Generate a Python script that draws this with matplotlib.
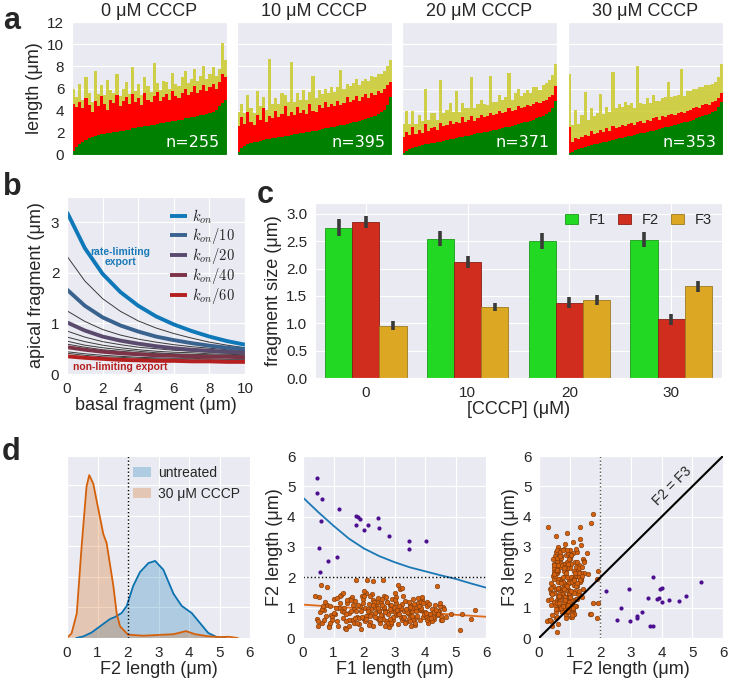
import matplotlib
matplotlib.use('Agg')
import matplotlib.pyplot as plt
import numpy as np
import seaborn as sns

sns.set_style('darkgrid')
plt.rcParams['font.family'] = ['Liberation Sans', 'DejaVu Sans']
plt.rcParams['mathtext.fontset'] = 'cm'

# ---- panel a: stacked fragment lengths per cell (tops of F1, F1+F2, F1+F2+F3), sorted by F1
conc_titles = ['0 \u03bcM CCCP', '10 \u03bcM CCCP', '20 \u03bcM CCCP', '30 \u03bcM CCCP']
cell_counts = ['n=255', 'n=395', 'n=371', 'n=353']

green_0 = [0.35, 0.7, 1.0, 1.2, 1.35, 1.5, 1.6, 1.7, 1.8, 1.85,
           1.9, 1.95, 2.0, 2.05, 2.1, 2.15, 2.2, 2.25, 2.3, 2.4,
           2.45, 2.5, 2.55, 2.6, 2.65, 2.7, 2.75, 2.8, 2.85, 2.9,
           2.95, 3.0, 3.05, 3.1, 3.15, 3.2, 3.3, 3.35, 3.4, 3.45,
           3.5, 3.6, 3.65, 3.7, 3.8, 3.9, 4.1, 4.4, 4.7, 5.0]
red_0 = [4.6, 4.3, 4.8, 4.2, 5.1, 4.5, 3.9, 4.9, 4.4, 5.3,
         4.6, 4.1, 5.0, 4.7, 5.4, 4.4, 4.9, 5.2, 4.6, 5.5,
         4.8, 5.1, 4.5, 5.6, 5.0, 4.8, 5.3, 5.7, 4.9, 5.2,
         5.5, 5.0, 5.8, 5.3, 5.1, 5.6, 6.0, 5.4, 5.7, 6.2,
         5.6, 5.9, 6.3, 5.8, 6.1, 6.4, 6.0, 6.6, 7.3, 7.0]
yellow_0 = [6.0, 5.2, 6.4, 5.0, 7.0, 5.6, 4.8, 7.6, 5.5, 6.3,
            5.4, 6.8, 5.9, 5.6, 7.3, 5.3, 6.0, 6.6, 5.5, 7.9,
            5.8, 6.4, 5.4, 7.0, 6.2, 5.7, 8.3, 6.5, 5.9, 6.7,
            6.6, 6.0, 7.4, 6.4, 6.2, 7.0, 7.6, 6.5, 6.9, 7.8,
            6.7, 7.1, 8.0, 6.9, 7.3, 7.9, 7.1, 7.8, 10.1, 8.6]

green_10 = [0.3, 0.6, 0.8, 0.95, 1.05, 1.15, 1.2, 1.3, 1.35, 1.4,
            1.45, 1.5, 1.55, 1.6, 1.65, 1.7, 1.75, 1.8, 1.85, 1.9,
            1.95, 2.0, 2.05, 2.1, 2.15, 2.2, 2.25, 2.35, 2.4, 2.45,
            2.5, 2.55, 2.6, 2.7, 2.75, 2.8, 2.85, 2.95, 3.0, 3.1,
            3.15, 3.25, 3.35, 3.45, 3.55, 3.7, 3.85, 4.1, 4.5, 5.2]
red_10 = [2.6, 3.4, 2.8, 3.9, 3.0, 2.7, 3.6, 3.2, 4.2, 3.0,
          3.5, 3.3, 4.0, 3.4, 3.7, 4.4, 3.5, 3.9, 3.6, 4.3,
          3.8, 4.1, 3.7, 4.6, 4.0, 3.9, 4.5, 4.2, 4.8, 4.3,
          4.6, 4.4, 4.9, 4.5, 4.7, 5.2, 4.8, 5.0, 5.3, 4.9,
          5.2, 5.5, 5.1, 5.6, 5.4, 5.8, 5.6, 6.0, 6.3, 6.6]
yellow_10 = [3.9, 4.6, 3.8, 5.4, 4.2, 3.8, 5.8, 4.4, 5.2, 4.1,
             8.7, 4.6, 5.1, 4.6, 5.6, 5.4, 4.8, 8.4, 4.8, 5.6,
             5.0, 5.9, 5.0, 5.7, 7.1, 5.1, 5.9, 5.5, 6.0, 5.6,
             6.1, 5.7, 6.1, 7.7, 6.0, 6.4, 6.2, 6.5, 6.9, 6.3,
             6.7, 6.9, 6.7, 7.1, 7.0, 7.3, 7.3, 7.6, 8.0, 8.6]

green_20 = [0.2, 0.4, 0.55, 0.65, 0.75, 0.85, 0.9, 0.95, 1.0, 1.05,
            1.1, 1.15, 1.2, 1.3, 1.35, 1.4, 1.45, 1.5, 1.6, 1.65,
            1.7, 1.75, 1.8, 1.9, 1.95, 2.0, 2.05, 2.1, 2.2, 2.25,
            2.3, 2.35, 2.45, 2.5, 2.55, 2.65, 2.7, 2.8, 2.85, 2.95,
            3.0, 3.1, 3.2, 3.3, 3.4, 3.55, 3.7, 3.9, 4.2, 4.9]
red_20 = [1.6, 2.1, 1.8, 2.5, 1.9, 2.3, 2.0, 2.8, 2.2, 2.4,
          2.5, 2.3, 2.9, 2.6, 2.7, 3.1, 2.8, 3.0, 2.9, 3.4,
          3.0, 3.2, 3.5, 3.1, 3.3, 3.6, 3.4, 3.5, 3.8, 3.6,
          3.7, 4.0, 3.8, 3.9, 4.2, 4.0, 4.1, 4.4, 4.2, 4.3,
          4.5, 4.4, 4.6, 4.8, 4.7, 4.9, 5.0, 5.2, 5.4, 6.2]
yellow_20 = [2.8, 4.0, 2.8, 4.0, 2.8, 3.6, 3.1, 6.0, 3.2, 3.8,
             3.8, 3.2, 6.8, 3.8, 4.1, 4.7, 3.9, 5.8, 3.9, 4.7,
             4.2, 4.2, 7.0, 4.2, 4.6, 5.0, 4.6, 4.5, 7.1, 4.8,
             4.8, 5.4, 5.0, 5.2, 7.4, 5.0, 5.6, 6.0, 5.3, 5.6,
             5.9, 5.6, 6.1, 6.1, 5.9, 6.3, 6.5, 6.8, 7.2, 8.2]

green_30 = [0.15, 0.3, 0.45, 0.55, 0.65, 0.75, 0.8, 0.9, 0.95, 1.0,
            1.1, 1.15, 1.2, 1.3, 1.35, 1.4, 1.5, 1.55, 1.6, 1.7,
            1.75, 1.8, 1.9, 1.95, 2.0, 2.1, 2.15, 2.2, 2.3, 2.35,
            2.4, 2.5, 2.55, 2.65, 2.7, 2.8, 2.85, 2.95, 3.0, 3.1,
            3.2, 3.3, 3.4, 3.5, 3.6, 3.7, 3.85, 4.0, 4.3, 4.8]
red_30 = [2.5, 1.2, 1.5, 1.4, 1.6, 1.8, 1.7, 2.2, 1.9, 2.0,
          2.3, 2.1, 2.4, 2.2, 2.6, 2.4, 2.5, 2.7, 2.6, 2.8,
          2.9, 2.7, 3.0, 3.1, 2.9, 3.2, 3.1, 3.3, 3.4, 3.2,
          3.5, 3.4, 3.6, 3.7, 3.6, 3.8, 3.9, 3.8, 4.0, 4.1,
          4.2, 4.3, 4.2, 4.5, 4.6, 4.5, 4.8, 4.9, 5.1, 5.6]
yellow_30 = [7.3, 2.7, 4.1, 2.8, 3.6, 5.7, 3.2, 4.2, 3.5, 3.8,
             5.5, 3.7, 4.3, 3.9, 7.5, 4.2, 4.6, 4.3, 4.8, 4.5,
             4.7, 4.2, 8.0, 4.7, 4.6, 5.1, 4.7, 5.4, 4.9, 4.9,
             5.1, 5.2, 6.6, 5.2, 5.3, 5.4, 7.8, 5.3, 5.8, 5.8,
             6.0, 6.0, 6.1, 6.1, 6.3, 6.3, 6.4, 6.6, 7.0, 8.2]

# ---- panel b: model curves (apical vs basal fragment)
basal = [0, 1, 2, 3, 4, 5, 6, 7, 8, 9, 10]
kon_1 = [3.20, 2.49, 1.98, 1.62, 1.35, 1.14, 0.98, 0.85, 0.74, 0.65, 0.58]
kon_10 = [1.67, 1.35, 1.12, 0.96, 0.84, 0.74, 0.67, 0.61, 0.56, 0.52, 0.49]
kon_20 = [1.02, 0.86, 0.74, 0.66, 0.60, 0.55, 0.51, 0.48, 0.46, 0.44, 0.42]
kon_40 = [0.53, 0.48, 0.44, 0.41, 0.39, 0.37, 0.36, 0.35, 0.34, 0.34, 0.33]
kon_60 = [0.35, 0.32, 0.30, 0.28, 0.27, 0.26, 0.26, 0.25, 0.25, 0.24, 0.24]
thin_curves = [
    [2.33, 1.84, 1.49, 1.24, 1.05, 0.91, 0.80, 0.71, 0.63, 0.57, 0.52],
    [1.25, 1.04, 0.88, 0.77, 0.69, 0.63, 0.58, 0.54, 0.51, 0.48, 0.46],
    [0.85, 0.73, 0.64, 0.58, 0.53, 0.50, 0.47, 0.45, 0.43, 0.41, 0.40],
    [0.73, 0.64, 0.57, 0.52, 0.48, 0.45, 0.43, 0.42, 0.40, 0.39, 0.38],
    [0.65, 0.57, 0.52, 0.48, 0.45, 0.42, 0.40, 0.39, 0.38, 0.37, 0.36],
    [0.59, 0.53, 0.48, 0.45, 0.42, 0.40, 0.39, 0.37, 0.36, 0.36, 0.35],
    [0.44, 0.40, 0.37, 0.35, 0.33, 0.32, 0.31, 0.31, 0.30, 0.29, 0.29],
    [0.41, 0.37, 0.34, 0.33, 0.31, 0.30, 0.29, 0.28, 0.28, 0.27, 0.27],
]
kon_labels = ['$k_{on}$', '$k_{on}/10$', '$k_{on}/20$', '$k_{on}/40$', '$k_{on}/60$']
kon_colors = ['#0f78b8', '#3a628f', '#5a4b6e', '#7d3347', '#b41f1f']

# ---- panel c: mean fragment sizes
cccp = ['0', '10', '20', '30']
f1_mean = [2.75, 2.55, 2.50, 2.53]
f2_mean = [2.85, 2.13, 1.38, 1.07]
f3_mean = [0.96, 1.30, 1.43, 1.68]
f1_err = [0.15, 0.13, 0.15, 0.14]
f2_err = [0.11, 0.11, 0.10, 0.10]
f3_err = [0.075, 0.07, 0.09, 0.10]

# ---- panel d left: F2 length densities
kde_x_untreated = [0.3, 0.53, 0.8, 1.08, 1.41, 1.57, 1.79, 1.96, 2.17, 2.39,
                   2.67, 2.89, 3.16, 3.49, 3.76, 4.09, 4.36, 4.63, 4.9, 5.2]
kde_y_untreated = [0, 0.01, 0.035, 0.076, 0.124, 0.137, 0.163, 0.21, 0.34, 0.43,
                   0.49, 0.504, 0.446, 0.29, 0.21, 0.163, 0.098, 0.033, 0.007, 0]
kde_x_cccp = [0, 0.15, 0.32, 0.48, 0.64, 0.73, 0.86, 1.08, 1.19, 1.30, 1.52,
              1.63, 1.74, 2.0, 2.5, 3.0, 3.5, 3.9, 4.2, 4.6, 5.0, 5.3, 5.6]
kde_y_cccp = [0, 0.03, 0.16, 0.60, 0.99, 1.065, 1.01, 0.79, 0.68, 0.62, 0.34,
              0.16, 0.076, 0.022, 0.015, 0.02, 0.025, 0.045, 0.025, 0.012, 0.006, 0.008, 0]

# ---- panel d scatter: cells with long F2 (purple) and the rest (orange), 30 uM CCCP
long_f1 = [0.55, 0.82, 1.11, 3.49, 0.51, 3.49, 4.03, 2.82, 2.01, 2.49, 1.73,
           2.14, 0.59, 1.88, 2.47, 1.79, 1.73, 1.18, 0.63, 0.46, 0.46]
long_f2 = [2.17, 2.55, 2.66, 2.95, 2.98, 3.21, 3.21, 3.37, 3.56, 3.61, 3.71,
           3.73, 3.85, 3.91, 3.95, 4.00, 4.02, 4.25, 4.58, 4.78, 5.27]
long_f3 = [1.56, 0.58, 0.98, 1.63, 0.55, 0.72, 0.66, 0.87, 1.33, 0.38, 0.38,
           2.00, 1.29, 1.33, 1.61, 1.20, 1.66, 1.24, 1.21, 1.38, 1.85]

short_f1 = [0.45, 0.52, 0.61, 0.70, 0.78, 0.85, 0.93, 1.02, 1.10, 1.18,
            1.25, 1.31, 1.38, 1.44, 1.50, 1.55, 1.60, 1.66, 1.71, 1.77,
            1.82, 1.86, 1.91, 1.95, 2.00, 2.04, 2.08, 2.12, 2.16, 2.20,
            2.24, 2.28, 2.31, 2.35, 2.39, 2.42, 2.46, 2.50, 2.53, 2.57,
            2.60, 2.64, 2.67, 2.71, 2.74, 2.78, 2.81, 2.85, 2.88, 2.92,
            2.95, 2.99, 3.02, 3.06, 3.10, 3.14, 3.18, 3.22, 3.26, 3.30,
            3.34, 3.38, 3.42, 3.46, 3.50, 3.54, 3.58, 3.62, 3.66, 3.70,
            3.74, 3.78, 3.82, 3.86, 3.90, 3.95, 4.00, 4.05, 4.10, 4.16,
            4.22, 4.28, 4.34, 4.40, 4.46, 4.52, 4.58, 4.70, 4.85, 5.15,
            0.55, 0.68, 0.95, 1.15, 1.35, 1.58, 1.80, 2.02, 2.22, 2.44,
            2.62, 2.84, 3.04, 3.24, 3.44, 3.64, 3.84, 4.04, 4.24, 4.44,
            0.48, 0.88, 1.28, 1.68, 2.08, 2.48, 2.88, 3.28, 3.68, 4.08,
            1.05, 1.45, 1.85, 2.26, 2.66, 3.06, 3.46, 3.86, 4.26, 4.50,
            1.62, 1.90, 2.14, 2.36, 2.58, 2.80, 3.00, 3.20, 3.40, 3.60,
            0.40, 0.58, 0.80, 1.75, 2.10, 2.62, 3.25, 5.50, 5.65, 5.20,
            1.40, 2.70, 3.90, 1.20, 2.30, 0.95, 3.50, 2.00, 4.40, 3.10,
            0.62, 0.90, 1.22, 1.52, 1.74, 1.98, 2.18, 2.40, 2.56, 2.76,
            2.96, 3.16, 3.36, 3.56, 3.76, 3.96, 4.14, 4.32, 4.54, 4.62,
            0.72, 1.00, 1.40, 1.64, 1.92, 2.14, 2.34, 2.54, 2.72, 2.90,
            3.08, 3.28, 3.48, 3.68, 3.88, 4.06, 4.30, 4.48, 1.50, 2.20,
            0.50, 0.75, 1.08, 1.33, 1.56, 1.78, 2.06, 2.30, 2.50, 2.70,
            2.90, 3.12, 3.32, 3.52, 3.72, 3.92, 4.12, 4.36, 4.56, 3.00,
            0.85, 1.12, 1.42, 1.70, 1.96, 2.20, 2.46, 2.68, 2.86, 3.14,
            3.38, 3.58, 3.80, 4.02, 4.20, 4.42, 0.65, 1.30, 2.00, 2.60]
short_f2 = [0.62, 1.35, 0.48, 0.92, 1.10, 0.41, 0.75, 1.28, 0.55, 0.98,
            1.42, 0.65, 0.33, 1.15, 0.82, 1.30, 0.58, 0.95, 1.22, 0.70,
            0.45, 1.05, 0.88, 1.38, 0.62, 0.99, 1.48, 0.77, 1.12, 0.52,
            0.95, 1.25, 0.38, 0.84, 1.05, 0.66, 1.32, 0.90, 0.48, 1.15,
            0.72, 1.40, 0.98, 0.55, 1.18, 0.80, 0.35, 1.08, 0.88, 1.28,
            0.60, 1.02, 0.85, 1.35, 0.45, 0.95, 1.60, 0.70, 1.12, 0.90,
            1.22, 0.52, 0.95, 0.78, 1.08, 0.40, 0.88, 1.30, 0.65, 1.00,
            0.72, 1.15, 0.58, 0.92, 1.25, 0.68, 0.85, 1.05, 0.50, 0.80,
            0.95, 0.62, 1.10, 0.75, 0.88, 0.60, 1.02, 0.68, 0.80, 0.25,
            0.85, 0.58, 0.68, 0.40, 1.00, 0.90, 1.10, 0.55, 0.80, 1.20,
            0.62, 0.95, 1.15, 0.58, 0.82, 1.12, 0.95, 0.72, 0.55, 0.90,
            0.40, 1.05, 0.88, 0.48, 0.72, 0.60, 0.45, 1.38, 0.42, 1.18,
            0.78, 1.25, 0.65, 1.45, 1.02, 0.75, 0.62, 1.20, 0.70, 1.05,
            1.35, 0.30, 0.95, 0.68, 1.30, 0.50, 1.25, 1.00, 0.85, 0.58,
            1.38, 1.75, 1.68, 1.92, 1.90, 1.92, 1.65, 0.62, 0.92, 0.78,
            0.30, 0.90, 1.35, 1.38, 1.88, 0.60, 0.55, 1.55, 1.70, 1.75,
            0.95, 0.50, 1.15, 0.60, 0.90, 1.30, 0.42, 1.00, 0.75, 1.18,
            0.68, 1.05, 0.50, 0.98, 1.32, 0.78, 1.12, 0.85, 0.72, 0.95,
            1.20, 0.82, 0.55, 1.08, 0.70, 0.88, 1.18, 0.62, 1.35, 0.52,
            0.92, 0.65, 1.20, 0.48, 1.00, 0.58, 0.85, 1.15, 0.38, 1.40,
            0.55, 0.72, 0.98, 0.85, 1.25, 0.48, 0.62, 1.08, 0.92, 0.40,
            1.10, 0.80, 0.68, 1.02, 0.88, 1.15, 0.65, 0.92, 0.58, 1.48,
            0.35, 1.32, 0.78, 0.65, 1.15, 0.72, 0.98, 0.85, 0.62, 0.78,
            0.95, 0.72, 1.05, 0.82, 0.65, 0.78, 1.05, 1.48, 1.40, 1.10]
short_f3 = [0.45, 3.65, 2.10, 1.20, 2.80, 0.40, 1.55, 2.25, 0.85, 1.90,
            2.60, 1.05, 0.60, 1.75, 2.95, 1.45, 2.30, 1.10, 2.05, 0.95,
            1.70, 2.45, 0.75, 1.95, 3.00, 1.30, 2.15, 1.85, 0.95, 2.70,
            1.15, 2.85, 1.50, 2.05, 0.70, 1.65, 2.40, 1.00, 2.20, 1.75,
            2.90, 1.35, 1.80, 0.65, 2.50, 1.20, 1.60, 2.00, 2.75, 1.45,
            1.25, 2.30, 0.90, 1.85, 2.60, 1.40, 2.10, 1.95, 1.05, 1.70,
            2.35, 1.10, 2.80, 1.50, 0.95, 1.80, 2.25, 1.55, 1.30, 2.65,
            1.90, 0.80, 2.15, 1.35, 2.50, 1.05, 1.75, 2.00, 1.20, 2.40,
            1.60, 2.20, 0.90, 1.45, 2.05, 1.15, 1.85, 1.30, 1.00, 0.55,
            1.35, 0.70, 2.50, 1.65, 1.40, 2.00, 1.25, 2.85, 2.45, 1.30,
            1.95, 0.85, 2.20, 2.55, 1.75, 1.90, 0.90, 2.70, 1.60, 2.30,
            1.10, 1.85, 0.65, 1.50, 2.35, 2.90, 2.05, 2.15, 0.75, 1.55,
            2.00, 1.30, 2.70, 1.60, 1.20, 2.40, 1.85, 1.05, 2.60, 1.25,
            1.95, 1.25, 1.55, 0.95, 2.10, 2.45, 1.70, 2.90, 1.35, 2.20,
            3.05, 4.10, 3.80, 2.20, 1.95, 1.15, 0.80, 1.40, 1.75, 1.05,
            3.65, 3.45, 3.25, 1.90, 0.65, 0.20, 3.35, 2.80, 0.80, 1.15,
            1.80, 2.30, 0.80, 2.55, 1.05, 2.00, 1.45, 2.60, 0.85, 2.15,
            1.40, 2.75, 1.95, 1.20, 2.30, 1.65, 0.95, 2.45, 1.85, 1.10,
            2.95, 1.60, 2.20, 0.70, 2.85, 1.75, 1.05, 2.40, 1.90, 2.05,
            2.50, 1.15, 1.70, 2.10, 1.35, 2.65, 1.25, 1.95, 0.55, 2.35,
            0.95, 2.65, 1.50, 3.10, 1.80, 2.40, 1.60, 0.75, 2.90, 1.30,
            1.00, 2.20, 2.70, 1.55, 2.15, 1.90, 1.45, 1.70, 2.25, 2.55,
            0.60, 2.15, 2.90, 1.35, 1.50, 1.00, 2.60, 2.35, 1.65, 1.85,
            2.45, 1.80, 1.55, 2.30, 1.40, 1.05, 2.75, 2.50, 2.05, 3.15]

# fitted trend lines in the F1/F2 plot
trend_x = [0, 6]
trend_y = [1.1, 0.7]
bound_x = [0, 0.5, 1, 1.5, 2, 2.5, 3, 3.5, 4, 4.5, 5, 5.5, 6]
bound_y = [4.63, 4.15, 3.70, 3.28, 2.95, 2.70, 2.50, 2.33, 2.20, 2.07, 1.95, 1.80, 1.66]

W, H = 729, 684
fig = plt.figure(figsize=(W / 100, H / 100), dpi=100)


def box(x0, y0, x1, y1):
    return [x0 / W, 1 - y1 / H, (x1 - x0) / W, (y1 - y0) / H]


# ---------------- a
a_sets = [(green_0, red_0, yellow_0), (green_10, red_10, yellow_10),
          (green_20, red_20, yellow_20), (green_30, red_30, yellow_30)]
a_lefts = [72, 237, 402, 568]
for i, (g, r, yl) in enumerate(a_sets):
    ax = fig.add_axes(box(a_lefts[i], 22, a_lefts[i] + 155, 155))
    edges = np.arange(len(g) + 1)
    ax.stairs(g, edges, baseline=0, fill=True, color='#008000', lw=0)
    ax.stairs(r, edges, baseline=g, fill=True, color='#ff0000', lw=0)
    ax.stairs(yl, edges, baseline=r, fill=True, color='#c8c81e', alpha=0.8, lw=0)
    ax.set_xlim(0, len(g))
    ax.set_ylim(0, 12)
    ax.set_xticks([])
    ax.set_yticks(range(0, 13, 2))
    ax.tick_params(labelsize=11, pad=2)
    if i == 0:
        ax.set_ylabel('length (\u03bcm)', fontsize=13, labelpad=3)
    else:
        ax.set_yticklabels([])
    ax.set_title(conc_titles[i], fontsize=13, pad=4)
    ax.text(0.955, 0.035, cell_counts[i], transform=ax.transAxes, ha='right',
            va='bottom', color='white', fontsize=11.5, family='DejaVu Sans')

# ---------------- b
ax = fig.add_axes(box(67, 197, 245, 374))
for tc in thin_curves:
    ax.plot(basal, tc, color='#3a3a3a', lw=0.7)
for vals, col, lab in zip([kon_1, kon_10, kon_20, kon_40, kon_60], kon_colors, kon_labels):
    ax.plot(basal, vals, color=col, lw=2.8, label=lab, solid_capstyle='butt')
ax.set_xlim(0, 10)
ax.set_ylim(0, 3.5)
ax.set_xticks(range(0, 11, 2))
ax.set_yticks([0, 1, 2, 3])
ax.tick_params(labelsize=11, pad=2)
ax.set_xlabel('basal fragment (\u03bcm)', fontsize=13, labelpad=1)
ax.set_ylabel('apical fragment (\u03bcm)', fontsize=13, labelpad=4)
ax.legend(loc='upper right', frameon=False, fontsize=10.5, handlelength=1.2,
          labelspacing=0.0, borderaxespad=0.3, handletextpad=0.3)
ax.text(3.0, 2.32, 'rate-limiting\nexport', color='#1a7ab8', fontsize=7.5,
        fontweight='bold', ha='center', va='center', linespacing=1.0)
ax.text(3.0, 0.13, 'non-limiting export', color='#b41f1f', fontsize=7.5,
        fontweight='bold', ha='center', va='center')

# ---------------- c
ax = fig.add_axes(box(315, 203, 722, 378))
xc = np.arange(len(cccp))
bw = 0.8 / 3
for k, (m, e, col, ec, lab) in enumerate([
        (f1_mean, f1_err, '#22d822', '#1a9a1a', 'F1'),
        (f2_mean, f2_err, '#d02d1e', '#8a2015', 'F2'),
        (f3_mean, f3_err, '#dca823', '#9a7a20', 'F3')]):
    ax.bar(xc + (k - 1) * bw, m, bw, color=col, edgecolor=ec, linewidth=0.6, label=lab)
    ax.errorbar(xc + (k - 1) * bw, m, yerr=e, fmt='none', ecolor='#3a3a3a',
                elinewidth=2.6, capsize=0)
ax.set_xlim(-0.5, 3.5)
ax.set_ylim(0, 3.2)
ax.set_xticks(xc)
ax.set_xticklabels(cccp)
ax.set_yticks(np.arange(0, 3.01, 0.5))
ax.tick_params(labelsize=11, pad=2)
ax.set_xlabel('[CCCP] (\u03bcM)', fontsize=13, labelpad=1)
ax.set_ylabel('fragment size (\u03bcm)', fontsize=13, labelpad=3)
ax.legend(loc='upper right', ncol=3, frameon=False, fontsize=10.5,
          handlelength=0.9, handletextpad=0.75, columnspacing=0.8,
          borderaxespad=0.3)

# ---------------- d left
ax = fig.add_axes(box(67, 456, 250, 638))
ax.fill_between(kde_x_untreated, kde_y_untreated, color='#0072b2', alpha=0.25,
                lw=0, label='untreated')
ax.plot(kde_x_untreated, kde_y_untreated, color='#0a72b0', lw=1.3)
ax.fill_between(kde_x_cccp, kde_y_cccp, color='#d55e00', alpha=0.25, lw=0,
                label='30 \u03bcM CCCP')
ax.plot(kde_x_cccp, kde_y_cccp, color='#d5600a', lw=1.3)
ax.axvline(2, color='k', ls=':', lw=1)
ax.set_xlim(0, 6)
ax.set_ylim(0, 1.19)
ax.set_xticks(range(7))
ax.set_yticks([0.2, 0.4, 0.6, 0.8, 1.0])
ax.set_yticklabels([])
ax.tick_params(labelsize=11, pad=2)
ax.set_xlabel('F2 length (\u03bcm)', fontsize=13, labelpad=1)
ax.legend(loc='upper right', frameon=False, fontsize=10, handlelength=1.3,
          handletextpad=0.5, borderaxespad=0.3)

# ---------------- d middle
ax = fig.add_axes(box(303, 456, 486, 638))
ax.scatter(short_f1, short_f2, s=11, color='#d2600f', edgecolor='#7a3808',
           linewidth=0.4, zorder=3)
ax.scatter(long_f1, long_f2, s=9, color='#4b0f8f', linewidth=0, zorder=3)
ax.plot(trend_x, trend_y, color='#e06a1a', lw=1.3, zorder=2)
ax.plot(bound_x, bound_y, color='#1a78b4', lw=1.3, zorder=2)
ax.axhline(2, color='k', ls=':', lw=1)
ax.set_xlim(0, 6)
ax.set_ylim(0, 6)
ax.set_xticks(range(7))
ax.set_yticks(range(7))
ax.tick_params(labelsize=11, pad=2)
ax.set_xlabel('F1 length (\u03bcm)', fontsize=13, labelpad=1)
ax.set_ylabel('F2 length (\u03bcm)', fontsize=13, labelpad=3)

# ---------------- d right
ax = fig.add_axes(box(539, 456, 723, 638))
ax.scatter(short_f2, short_f3, s=11, color='#d2600f', edgecolor='#7a3808',
           linewidth=0.4, zorder=3)
ax.scatter(long_f2, long_f3, s=9, color='#4b0f8f', linewidth=0, zorder=3)
ax.plot([0, 6], [0, 6], color='k', lw=1.5, zorder=4)
ax.axvline(2, color='#555555', ls=':', lw=1)
ax.text(4.35, 5.0, 'F2 = F3', rotation=45, ha='center', va='center', fontsize=10)
ax.set_xlim(0, 6)
ax.set_ylim(0, 6)
ax.set_xticks(range(7))
ax.set_yticks(range(7))
ax.tick_params(labelsize=11, pad=2)
ax.set_xlabel('F2 length (\u03bcm)', fontsize=13, labelpad=1)
ax.set_ylabel('F3 length (\u03bcm)', fontsize=13, labelpad=3)

# panel letters
for letter, px, py in [('a', 3, 6), ('b', 3, 172), ('c', 257, 180), ('d', 2, 437)]:
    fig.text(px / W, 1 - py / H, letter, fontsize=22, fontweight='bold',
             ha='left', va='top')

fig.savefig('out.png', dpi=100)
